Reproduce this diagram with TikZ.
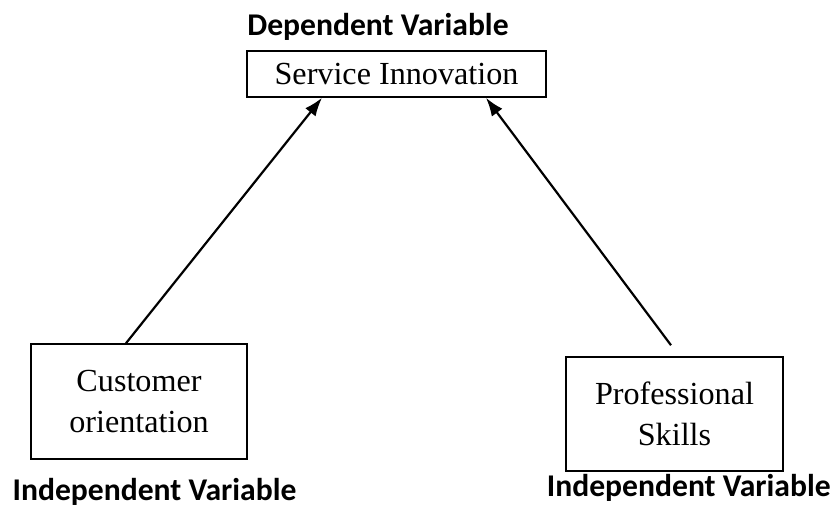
\documentclass[tikz,border=0pt]{standalone}
\usepackage{fontspec}
\setmainfont{Liberation Serif}
\newfontfamily\labelfont{Carlito}
\usepackage{tikz}
\usetikzlibrary{positioning, calc, arrows.meta}

\begin{document}
\begin{tikzpicture}[
    varbox/.style={draw, line width=0.9pt, align=center,
      font=\fontsize{18.3}{23}\selectfont, inner sep=0pt},
    varlabel/.style={font=\labelfont\bfseries\fontsize{18}{22}\selectfont, inner sep=0pt},
    link/.style={line width=1.25pt, -{Latex[length=10.5pt,width=7.5pt]}}
  ]
  \useasboundingbox (0,0) rectangle (16.62,-10.16);

  % dependent variable
  \node[varbox, minimum width=5.98cm, minimum height=0.92cm] (svc) at (7.93,-1.48) {Service Innovation};
  \node[varlabel] (deplbl) at (7.56,-0.54) {Dependent Variable};

  % independent variables
  \node[varbox, minimum width=4.32cm, minimum height=2.3cm] (cust) at (2.78,-8.03) {Customer\\orientation};
  \node[varbox, minimum width=4.34cm, minimum height=2.28cm] (prof) at (13.49,-8.28) {Professional\\Skills};
  \node[varlabel] (indlbl1) at (3.09,-9.84) {Independent Variable};
  \node[varlabel, anchor=east] (indlbl2) at (16.62,-9.76) {Independent Variable};

  \draw[link] ([xshift=-0.26cm]cust.north) -- ([xshift=-1.49cm]svc.south);
  \draw[link] ([xshift=-0.07cm, yshift=0.22cm]prof.north) -- ([xshift=1.79cm]svc.south);
\end{tikzpicture}
\end{document}
